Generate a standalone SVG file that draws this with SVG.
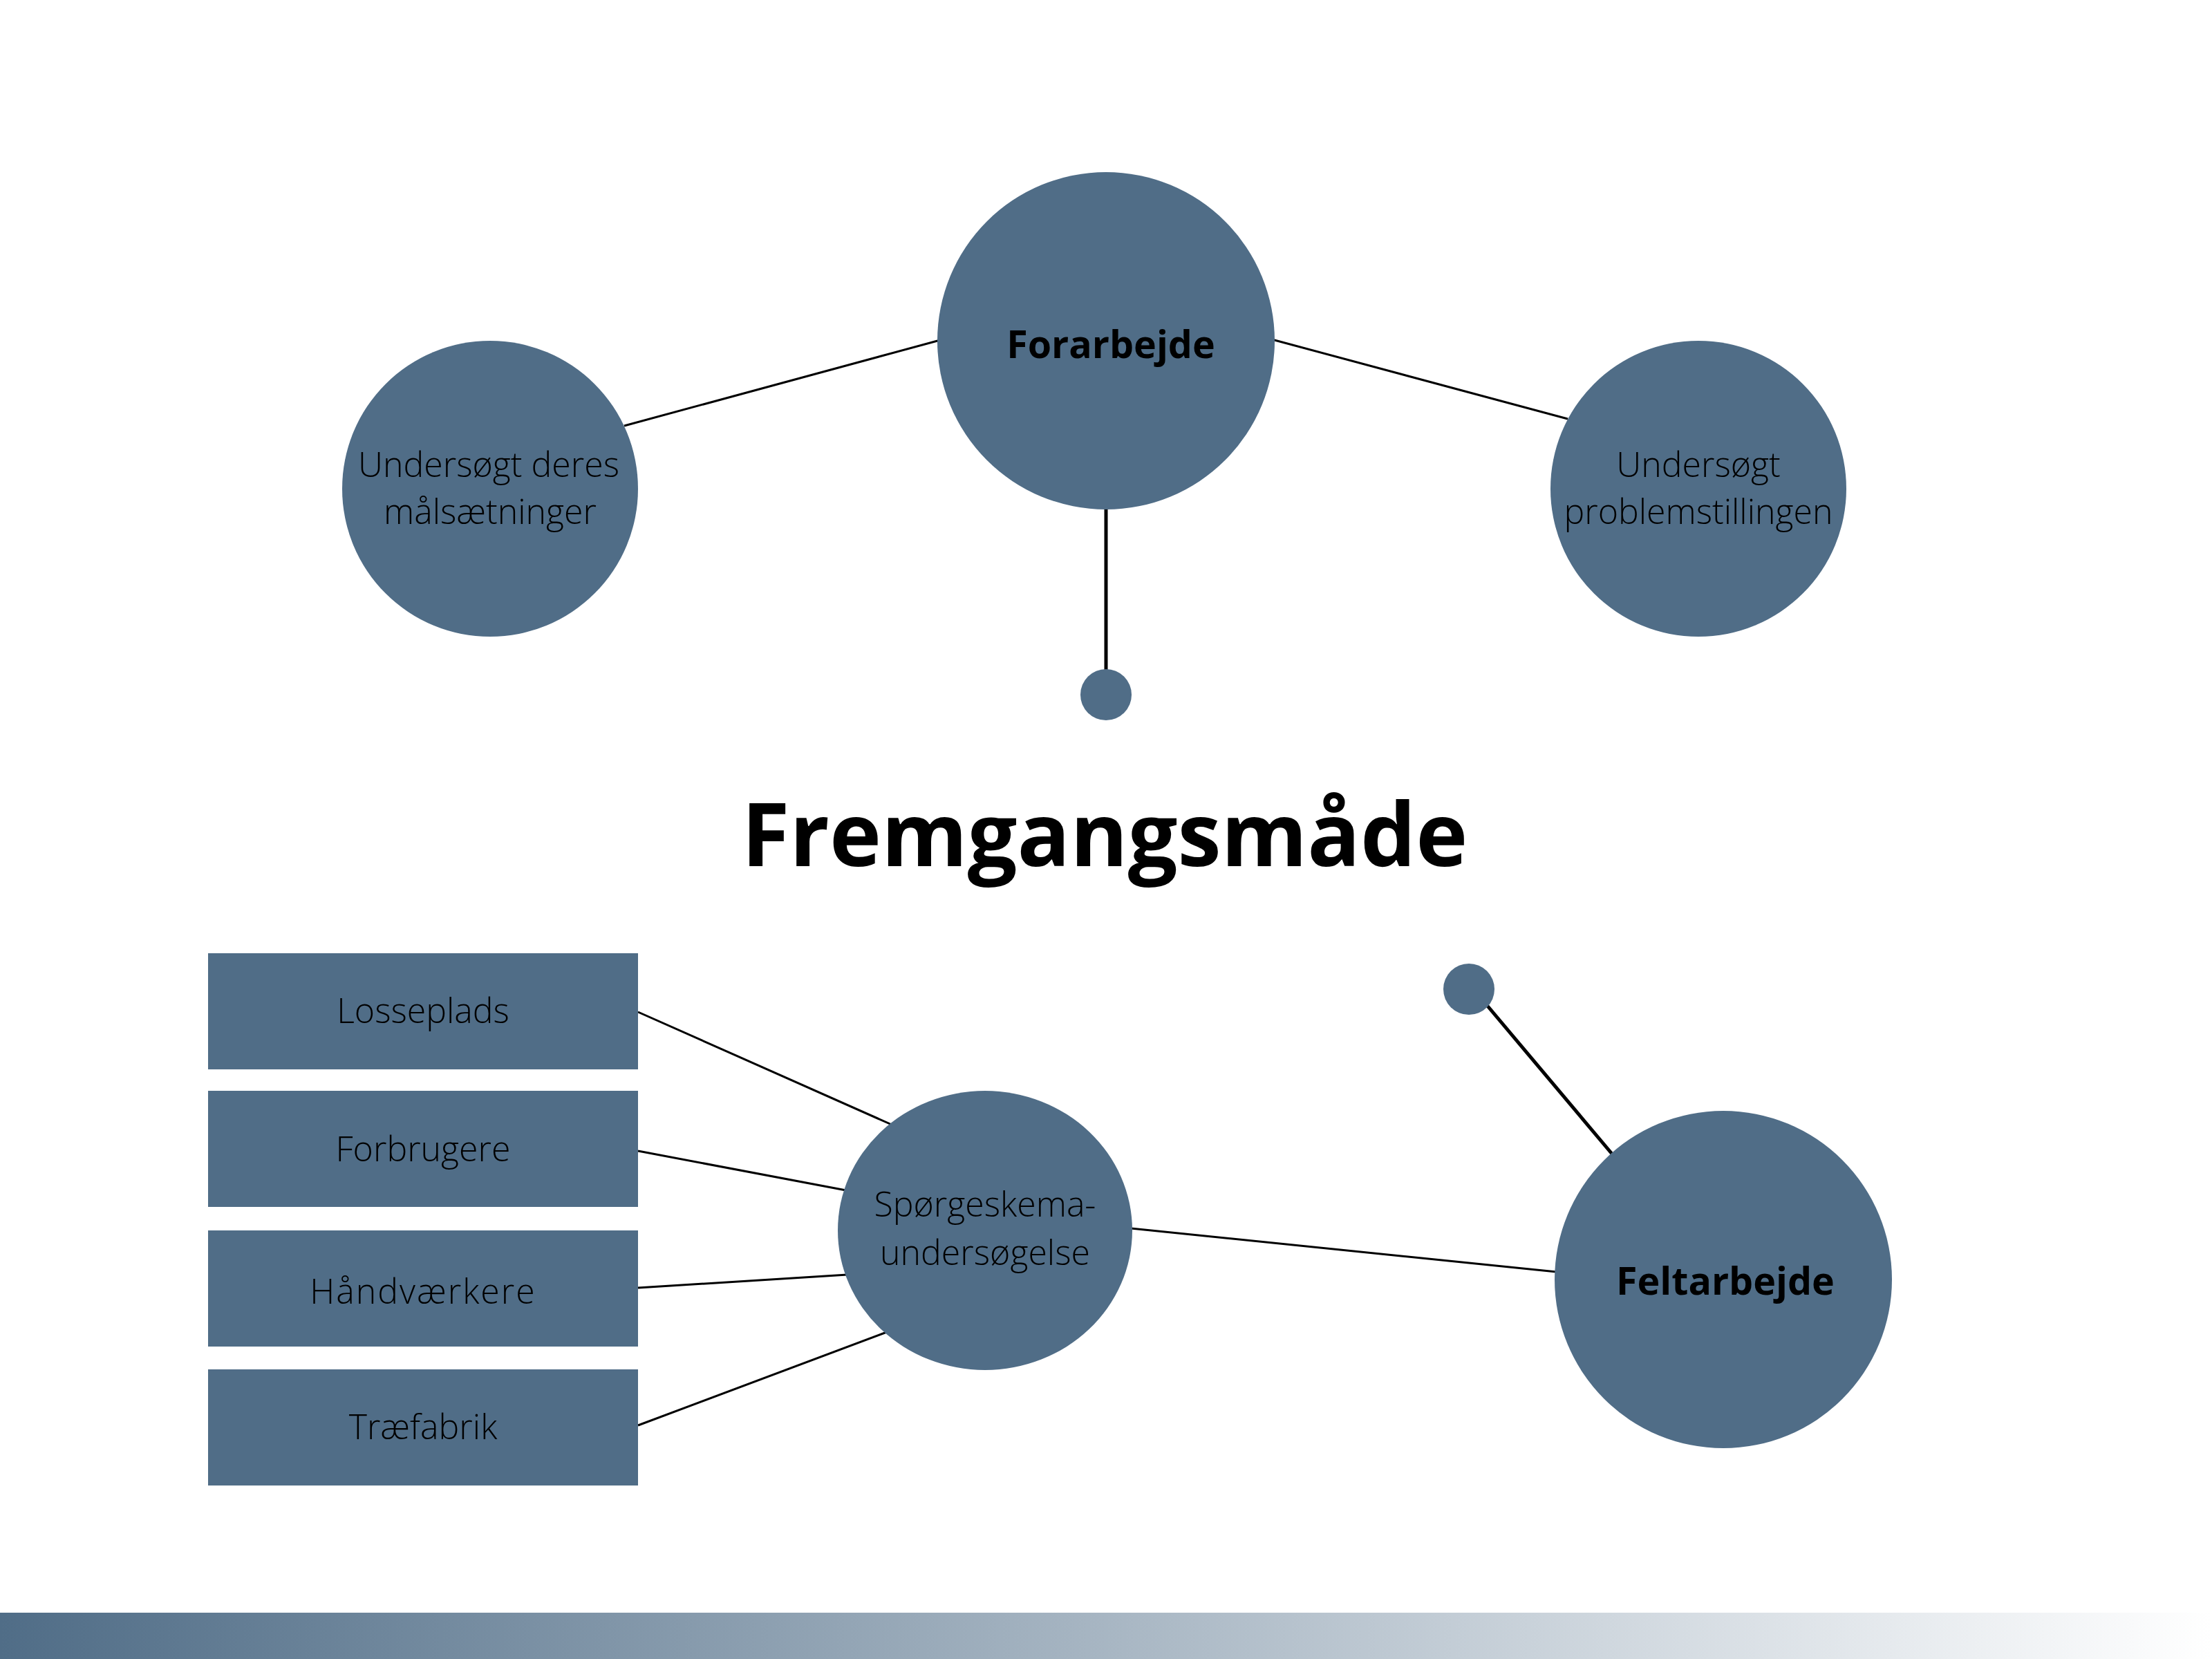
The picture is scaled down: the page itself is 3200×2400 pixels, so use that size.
<svg xmlns="http://www.w3.org/2000/svg" width="3200" height="2400" viewBox="0 0 3200 2400">
<style>
.node{fill:#506d87}
.lt{font-family:"Open Sans","Liberation Sans",sans-serif;font-weight:300;font-size:50px;fill:#000;text-anchor:middle}
.bd{font-family:"Open Sans","Liberation Sans",sans-serif;font-weight:700;font-size:55.5px;fill:#000;text-anchor:middle}
.ttl{font-family:"Open Sans","Liberation Sans",sans-serif;font-weight:700;font-size:127px;fill:#000;text-anchor:middle}
.thin{stroke:#000;stroke-width:3;fill:none}
.thick{stroke:#000;stroke-width:5;fill:none}
</style>
<defs>
<linearGradient id="bar" x1="0" y1="0" x2="1" y2="0">
<stop offset="0" stop-color="#506d87"/>
<stop offset="1" stop-color="#ffffff"/>
</linearGradient>
</defs>
<rect width="3200" height="2400" fill="#fff"/>
<rect x="0" y="2333" width="3200" height="67" fill="url(#bar)"/>
<g id="connectors">
<line class="thin" x1="903" y1="616" x2="1360" y2="492"/>
<line class="thin" x1="1840" y1="491" x2="2268" y2="606"/>
<line class="thick" x1="1600" y1="730" x2="1600" y2="975"/>
<line class="thin" x1="923" y1="1464" x2="1290" y2="1627"/>
<line class="thin" x1="923" y1="1665" x2="1224" y2="1722"/>
<line class="thin" x1="923" y1="1863" x2="1226" y2="1844"/>
<line class="thin" x1="923" y1="2062" x2="1283" y2="1927"/>
<line class="thin" x1="1636" y1="1777" x2="2252" y2="1840"/>
<line class="thick" x1="2145" y1="1447" x2="2336" y2="1674"/>
</g>
<g id="forarbejde"><circle class="node" cx="1600" cy="493" r="244"/><text class="bd" x="1607" y="518">Forarbejde</text></g>
<g id="maal"><circle class="node" cx="709" cy="707" r="214"/><text class="lt" x="707" y="690">Undersøgt deres</text><text class="lt" x="709" y="758">målsætninger</text></g>
<g id="problem"><circle class="node" cx="2457" cy="707" r="214"/><text class="lt" x="2457" y="690">Undersøgt</text><text class="lt" x="2457" y="758">problemstillingen</text></g>
<g id="dot1"><circle class="node" cx="1600" cy="1005" r="37"/></g>
<g id="title"><text class="ttl" x="1598" y="1253">Fremgangsmåde</text></g>
<g id="dot2"><circle class="node" cx="2125" cy="1431" r="37"/></g>
<g id="losseplads"><rect class="node" x="301" y="1379" width="622" height="168"/><text class="lt" x="612" y="1480">Losseplads</text></g>
<g id="forbrugere"><rect class="node" x="301" y="1578" width="622" height="168"/><text class="lt" x="612" y="1680">Forbrugere</text></g>
<g id="haandvaerkere"><rect class="node" x="301" y="1780" width="622" height="168"/><text class="lt" x="612" y="1886" style="letter-spacing:2px">Håndværkere</text></g>
<g id="traefabrik"><rect class="node" x="301" y="1981" width="622" height="168"/><text class="lt" x="612" y="2082">Træfabrik</text></g>
<g id="spoergeskema"><ellipse class="node" cx="1425" cy="1780" rx="213" ry="202"/><text class="lt" x="1425" y="1760">Spørgeskema-</text><text class="lt" x="1425" y="1830">undersøgelse</text></g>
<g id="feltarbejde"><circle class="node" cx="2493" cy="1851" r="244"/><text class="bd" x="2496" y="1873">Feltarbejde</text></g>
</svg>
